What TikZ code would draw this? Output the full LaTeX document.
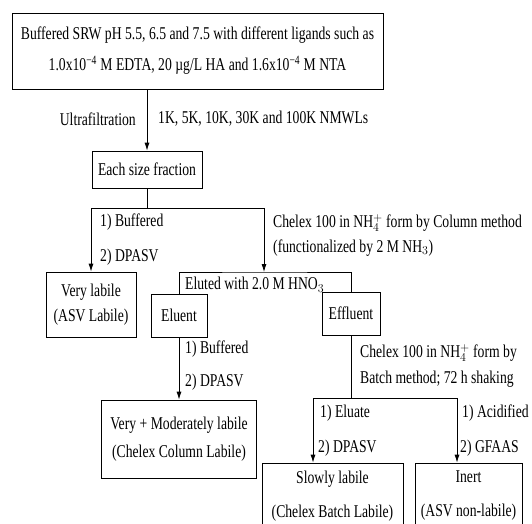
\documentclass[tikz,border=0pt]{standalone}
\usepackage{fontspec}
\setmainfont[FakeStretch=0.76]{Liberation Serif}
\usetikzlibrary{arrows.meta}
\tikzset{
  box/.style = {draw, line width = 0.8pt, align = center, inner sep = 0pt},
  lbl/.style = {anchor = west, inner sep = 0pt},
  link/.style = {line width = 0.8pt},
  flow/.style = {link, -{Latex[length = 8pt, width = 5pt]}},
}
\begin{document}
\begin{tikzpicture}[x = 1pt, y = -1pt, font = \fontsize{18}{21}\selectfont]
  \useasboundingbox (0, 0) rectangle (532, 523);
  % fractions and species boxes
  \node[box, minimum width = 371pt, minimum height = 76pt] (sample) at (197.5, 51)
  {Buffered SRW pH 5.5, 6.5 and 7.5 with different ligands such as\\[10pt]
   1.0x10\textsuperscript{−4} M EDTA, 20 µg/L HA and 1.6x10\textsuperscript{−4} M NTA};
  \node[box, minimum width = 110pt, minimum height = 37pt] (fraction) at (147, 169.5)
  {Each size fraction};
  \node[box, minimum width = 90pt, minimum height = 65pt] (verylabile) at (91, 304.5)
  {Very labile\\[4pt](ASV Labile)};
  \node[box, minimum width = 56pt, minimum height = 43pt] (eluent) at (179, 315.5)
  {Eluent};
  \node[box, minimum width = 58pt, minimum height = 43pt] (effluent) at (351, 313.5)
  {Effluent};
  \node[box, minimum width = 155pt, minimum height = 78pt] (moderate) at (179, 439)
  {Very + Moderately labile\\[7pt](Chelex Column Labile)};
  \node[box, minimum width = 141pt, minimum height = 66pt] (slowly) at (332.5, 496)
  {Slowly labile\\[13pt](Chelex Batch Labile)};
  \node[box, minimum width = 107pt, minimum height = 66pt] (inert) at (468.5, 496)
  {Inert\\[13pt](ASV non-labile)};
  % treatment labels
  \node[anchor = east, inner sep = 0pt] (ultra) at (136, 119) {Ultrafiltration};
  \node[lbl] (nmwl) at (158, 119) {1K, 5K, 10K, 30K and 100K NMWLs};
  \node[lbl] (buffA) at (100, 222) {1) Buffered};
  \node[lbl] (dpasvA) at (100, 257) {2) DPASV};
  \node[lbl] (column) at (273, 223) {Chelex 100 in NH$_4^+$ form by Column method};
  \node[lbl] (funct) at (273, 248) {(functionalized by 2 M NH$_3$)};
  \node[lbl] (eluted) at (185, 285) {Eluted with 2.0 M HNO$_3$};
  \node[lbl] (buffB) at (185, 349) {1) Buffered};
  \node[lbl] (dpasvB) at (185, 382) {2) DPASV};
  \node[lbl] (batch) at (360, 353) {Chelex 100 in NH$_4^+$ form by};
  \node[lbl] (shake) at (360, 379) {Batch method; 72 h shaking};
  \node[lbl] (eluate) at (320, 413) {1) Eluate};
  \node[lbl] (dpasvC) at (318, 448) {2) DPASV};
  \node[lbl] (acid) at (462, 413) {1) Acidified};
  \node[lbl] (gfaas) at (460, 448) {2) GFAAS};
  % connectors
  \coordinate (splitL) at (91, 208);
  \coordinate (splitR) at (264, 208);
  \coordinate (elutedtop) at (264, 272);
  \coordinate (batchL) at (313, 398);
  \coordinate (batchR) at (457, 398);
  \draw[flow] (sample.south -| fraction.north) -- (fraction.north);
  \draw[link] (fraction.south) -- (fraction.south |- splitL);
  \draw[link] (splitL) -- (splitR);
  \draw[flow] (splitL) -- (verylabile.north);
  \draw[flow] (splitR) -- (elutedtop);
  \draw[link] (eluent.north) |- (elutedtop) -| (effluent.north);
  \draw[flow] (eluent.south) -- (moderate.north);
  \draw[link] (effluent.south) -- (effluent.south |- batchL);
  \draw[link] (batchL) -- (batchR);
  \draw[flow] (batchL) -- (batchL |- slowly.north);
  \draw[flow] (batchR) -- (batchR |- inert.north);
\end{tikzpicture}
\end{document}
